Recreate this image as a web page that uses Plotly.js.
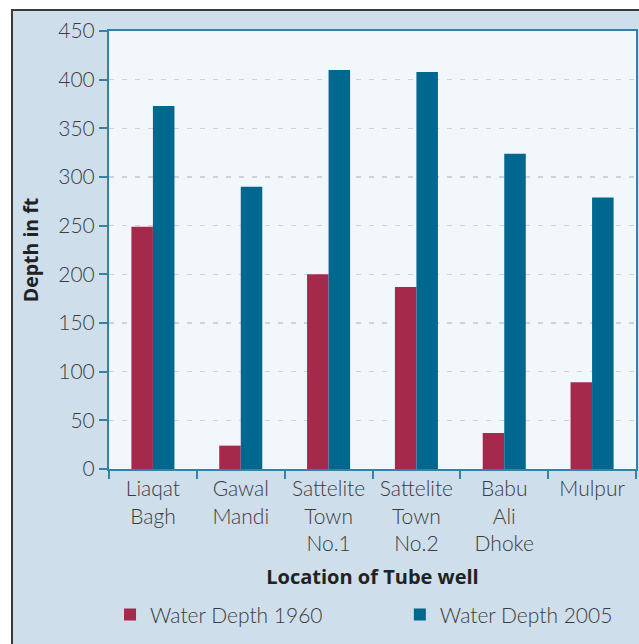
<!DOCTYPE html>
<html>
<head>
<meta charset="utf-8">
<script src="https://cdn.plot.ly/plotly-3.0.1.min.js"></script>
<style>
  html, body { margin: 0; padding: 0; background: #ffffff; width: 639px; height: 644px; overflow: hidden; }
  #frame { position: absolute; left: 11px; top: 9px; width: 628px; height: 635px;
           border-top: 2px solid #3a3a3a; border-left: 2px solid #3a3a3a; background: #cfdeeb; }
  #chart { width: 626px; height: 633px; }
</style>
</head>
<body>
<div id="frame"><div id="chart"></div></div>
<script>
const categories = ["Liaqat<br>Bagh", "Gawal<br>Mandi", "Sattelite<br>Town<br>No.1", "Sattelite<br>Town<br>No.2", "Babu<br>Ali<br>Dhoke", "Mulpur"];
const depth1960 = [249, 24, 200, 187, 37, 89];
const depth2005 = [373, 290, 410, 408, 324, 279];
const seriesNames = ["Water Depth 1960", "Water Depth 2005"];
const yTicks = [0, 50, 100, 150, 200, 250, 300, 350, 400, 450];

const textColor = "#3c3c3c";
const axisColor = "#3582a6";
const fontFam = "Lato, 'Open Sans', sans-serif";
const boldFam = "'Open Sans', 'Noto Sans', sans-serif";

const data = [
  { type: "bar", name: seriesNames[0], x: categories, y: depth1960, marker: { color: "#a4294b" }, legend: "legend" },
  { type: "bar", name: seriesNames[1], x: categories, y: depth2005, marker: { color: "#00678f" }, legend: "legend2" }
];

const legendBase = {
  orientation: "h",
  xref: "container", yref: "container",
  y: 0.046, xanchor: "left", yanchor: "middle",
  bgcolor: "rgba(0,0,0,0)",
  font: { size: 21, color: textColor, family: fontFam, weight: 300 }
};

const layout = {
  width: 626, height: 633,
  margin: { l: 96, r: 3, t: 20, b: 175 },
  paper_bgcolor: "#cfdeeb",
  plot_bgcolor: "#f2f7fb",
  barmode: "group",
  bargap: 0.51,
  bargroupgap: 0,
  font: { family: fontFam, color: textColor, size: 21 },
  xaxis: {
    type: "category",
    showline: true, linecolor: axisColor, linewidth: 2, mirror: true,
    ticks: "outside", tickson: "boundaries", ticklen: 8, tickwidth: 2, tickcolor: axisColor,
    showgrid: false, tickangle: 0,
    tickfont: { size: 21, color: textColor, weight: 300 },
    title: { text: "Location of Tube well", font: { size: 20, color: "#222222", family: boldFam, weight: "bold" }, standoff: 16 }
  },
  yaxis: {
    range: [0, 450], tickvals: yTicks,
    showline: true, linecolor: axisColor, linewidth: 2, mirror: true,
    ticks: "outside", ticklen: 8, tickwidth: 2, tickcolor: axisColor,
    showgrid: true, gridcolor: "#cdd3da", gridwidth: 1.2, griddash: "5px,8px",
    zeroline: false,
    tickfont: { size: 21, color: textColor, weight: 300 },
    title: { text: "Depth in ft", font: { size: 19.5, color: "#222222", family: boldFam, weight: "bold" }, standoff: 14 }
  },
  showlegend: true,
  legend: Object.assign({}, legendBase, { x: 0.155 }),
  legend2: Object.assign({}, legendBase, { x: 0.618 })
};

Plotly.newPlot("chart", data, layout, { displayModeBar: false, staticPlot: true });
</script>
</body>
</html>
